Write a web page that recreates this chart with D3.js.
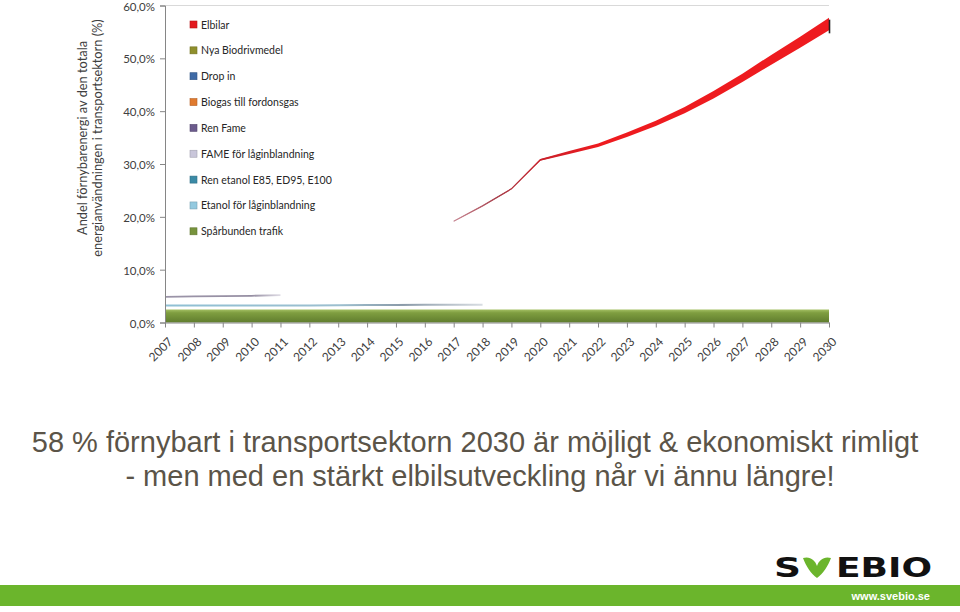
<!DOCTYPE html>
<html>
<head>
<meta charset="utf-8">
<script src="https://cdn.jsdelivr.net/npm/d3@7/dist/d3.min.js"></script>
<style>
  html, body { margin: 0; padding: 0; background: #fff; }
  svg { display: block; }
</style>
</head>
<body>
<svg id="chart" width="960" height="612"></svg>
<script>
// ---------------- DATA ----------------
const years = [2007,2008,2009,2010,2011,2012,2013,2014,2015,2016,2017,2018,2019,2020,2021,2022,2023,2024,2025,2026,2027,2028,2029,2030];
const yTicks = [0,10,20,30,40,50,60];
const legendNames = ["Elbilar","Nya Biodrivmedel","Drop in","Biogas till fordonsgas","Ren Fame","FAME för låginblandning","Ren etanol E85, ED95, E100","Etanol för låginblandning","Spårbunden trafik"];
const legendColors = ["#e3191f","#8f8f2c","#3f6aa6","#e07a2e","#6b5b8c","#c9c6da","#3a8aa6","#93c9df","#77933c"];
// Spårbunden trafik (%), all years
const sparbunden = [2.45,2.45,2.45,2.45,2.45,2.45,2.45,2.45,2.45,2.45,2.45,2.45,2.45,2.45,2.45,2.45,2.45,2.45,2.45,2.45,2.45,2.45,2.45,2.45];
// Etanol för låginblandning (cumulative top, %), visible part only
const etanolTop = [3.2,3.2,3.2,3.2,3.2,3.2,3.25,3.3,3.3,3.35,3.35,3.35,null,null,null,null,null,null,null,null,null,null,null,null];
// FAME för låginblandning (cumulative top, %), visible part only
const fameTop = [4.85,4.95,5.0,5.05,5.2,null,null,null,null,null,null,null,null,null,null,null,null,null,null,null,null,null,null,null];
// Sum of all layers below Elbilar (%), visible from 2017
const underElbilar = [null,null,null,null,null,null,null,null,null,null,19.1,22.0,25.2,30.6,31.9,33.2,35.1,37.2,39.6,42.4,45.5,48.8,52.0,55.3];
// Elbilar (%)
const elbilar = [null,null,null,null,null,null,null,null,null,null,0.1,0.15,0.2,0.35,0.55,0.7,0.85,1.0,1.2,1.4,1.6,1.85,2.1,2.4];

// ---------------- LAYOUT ----------------
const svg = d3.select("#chart");
const x = d3.scalePoint().domain(years).range([165, 829]);
const y = d3.scaleLinear().domain([0, 60]).range([322.5, 5.5]);

const defs = svg.append("defs");
const gGreen = defs.append("linearGradient").attr("id","gGreen").attr("x1",0).attr("y1",0).attr("x2",0).attr("y2",1);
gGreen.append("stop").attr("offset","0%").attr("stop-color","#a3bf63");
gGreen.append("stop").attr("offset","25%").attr("stop-color","#7f9e40");
gGreen.append("stop").attr("offset","100%").attr("stop-color","#607d2e");

const gRed = defs.append("linearGradient").attr("id","gRed").attr("gradientUnits","userSpaceOnUse")
  .attr("x1", x(2017)).attr("y1",0).attr("x2", x(2022)).attr("y2",0);
gRed.append("stop").attr("offset","0%").attr("stop-color","#c88a96");
gRed.append("stop").attr("offset","30%").attr("stop-color","#a8404c");
gRed.append("stop").attr("offset","60%").attr("stop-color","#c8202a");
gRed.append("stop").attr("offset","100%").attr("stop-color","#ee1b1f");

const gBlue = defs.append("linearGradient").attr("id","gBlue").attr("gradientUnits","userSpaceOnUse")
  .attr("x1", x(2007)).attr("y1",0).attr("x2", x(2018)).attr("y2",0);
gBlue.append("stop").attr("offset","0%").attr("stop-color","#8fc0d4");
gBlue.append("stop").attr("offset","55%").attr("stop-color","#9cbfcf");
gBlue.append("stop").attr("offset","75%").attr("stop-color","#8a9aa8");
gBlue.append("stop").attr("offset","100%").attr("stop-color","#d8dde2");

const gFame = defs.append("linearGradient").attr("id","gFame").attr("gradientUnits","userSpaceOnUse")
  .attr("x1", x(2007)).attr("y1",0).attr("x2", x(2011)).attr("y2",0);
gFame.append("stop").attr("offset","0%").attr("stop-color","#9b94a8");
gFame.append("stop").attr("offset","75%").attr("stop-color","#958ea2");
gFame.append("stop").attr("offset","100%").attr("stop-color","#e0dde6");

// top border line
svg.append("line").attr("x1", x(2007)).attr("x2", x(2030)).attr("y1", y(60)).attr("y2", y(60))
  .attr("stroke","#d9d9d9").attr("stroke-width",1.2);

// Spårbunden trafik area
const rows = years.map((yr,i)=>({yr, i}));
svg.append("path")
  .datum(rows)
  .attr("fill","url(#gGreen)")
  .attr("d", d3.area().x(d=>x(d.yr)).y0(y(0)).y1(d=>y(sparbunden[d.i])));

// Etanol line
svg.append("path")
  .datum(rows.filter(d=>etanolTop[d.i]!=null))
  .attr("fill","none").attr("stroke","url(#gBlue)").attr("stroke-width",2)
  .attr("d", d3.line().x(d=>x(d.yr)).y(d=>y(etanolTop[d.i])));

// FAME line
svg.append("path")
  .datum(rows.filter(d=>fameTop[d.i]!=null))
  .attr("fill","none").attr("stroke","url(#gFame)").attr("stroke-width",1.8)
  .attr("d", d3.line().x(d=>x(d.yr)).y(d=>y(fameTop[d.i])));

// Elbilar band
const elRows = rows.filter(d=>underElbilar[d.i]!=null);
svg.append("path")
  .datum(elRows)
  .attr("fill","url(#gRed)")
  .attr("d", d3.area().x(d=>x(d.yr)).y0(d=>y(underElbilar[d.i])).y1(d=>y(underElbilar[d.i]+elbilar[d.i])));
svg.append("path")
  .datum(elRows)
  .attr("fill","none").attr("stroke","url(#gRed)").attr("stroke-width",1.2)
  .attr("d", d3.line().x(d=>x(d.yr)).y(d=>y(underElbilar[d.i]+elbilar[d.i]*0.5)));
const last = elRows[elRows.length-1];
svg.append("line")
  .attr("x1", x(last.yr)+0.5).attr("x2", x(last.yr)+0.5)
  .attr("y1", y(underElbilar[last.i]+elbilar[last.i])+2).attr("y2", y(underElbilar[last.i])+3)
  .attr("stroke","#222").attr("stroke-width",1.6);

// Axes
const axisColor = "#868686";
const yAxis = svg.append("g").attr("transform", `translate(${x(2007)},0)`)
  .call(d3.axisLeft(y).tickValues(yTicks).tickSize(5).tickFormat(d => d3.format(".1f")(d).replace(".", ",") + "%"));
yAxis.select(".domain").attr("stroke", axisColor);
yAxis.selectAll(".tick line").attr("stroke", axisColor);
yAxis.selectAll(".tick text").attr("x", -10).attr("dy","0.4em").attr("fill","#404040")
  .style("font-family","Lato, 'Open Sans', sans-serif").style("font-size","11.5px");

const xAxis = svg.append("g").attr("transform", `translate(0,${y(0)})`)
  .call(d3.axisBottom(x).tickSize(5).tickSizeOuter(0));
xAxis.select(".domain").attr("stroke", axisColor);
xAxis.selectAll(".tick line").attr("stroke", axisColor);
xAxis.selectAll(".tick text")
  .attr("fill","#404040")
  .style("font-family","Lato, 'Open Sans', sans-serif").style("font-size","12px")
  .attr("text-anchor","end").attr("dy",0).attr("y",0)
  .attr("transform","translate(8,20) rotate(-45)");

// Y axis title
const yt = svg.append("text")
  .attr("transform","translate(87,138) rotate(-90)")
  .attr("text-anchor","middle").attr("fill","#404040")
  .style("font-family","Lato, 'Open Sans', sans-serif").style("font-size","12.8px");
yt.append("tspan").attr("x",0).attr("dy",0).text("Andel förnybarenergi av den totala");
yt.append("tspan").attr("x",0).attr("dy",15).text("energianvändningen i transportsektorn (%)");

// Legend
const leg = svg.append("g");
legendNames.forEach((n,i)=>{
  const cy = 25 + i*25.85;
  leg.append("rect").attr("x",190).attr("y",cy-4).attr("width",7).attr("height",7)
    .attr("fill",legendColors[i]).attr("stroke",d3.color(legendColors[i]).darker(0.6)).attr("stroke-width",0.6);
  leg.append("text").attr("x",201).attr("y",cy+3.5).attr("fill","#262626")
    .style("font-family","Lato, 'Open Sans', sans-serif").style("font-size","10.5px").text(n);
});

// Caption
const cap = svg.append("text").attr("text-anchor","middle").attr("fill","#5b5448")
  .style("font-family","'Liberation Sans', Arial, sans-serif").style("font-size","29px");
cap.append("tspan").attr("x",475).attr("y",452).text("58 % förnybart i transportsektorn 2030 är möjligt & ekonomiskt rimligt");
cap.append("tspan").attr("x",480).attr("y",486).text("- men med en stärkt elbilsutveckling når vi ännu längre!");

// Footer bar
svg.append("rect").attr("x",0).attr("y",585).attr("width",960).attr("height",21).attr("fill","#6bb52c");
svg.append("text").attr("x",930).attr("y",600).attr("text-anchor","end").attr("fill","#fff")
  .style("font-family","'Liberation Sans', Arial, sans-serif").style("font-size","11px").style("font-weight","bold")
  .text("www.svebio.se");

// Logo
const logo = svg.append("g");
logo.append("text").attr("x",774).attr("y",577).attr("fill","#111")
  .style("font-family","'DejaVu Sans', sans-serif").style("font-weight","bold").style("font-size","27px")
  .attr("textLength",27).attr("lengthAdjust","spacingAndGlyphs").text("S");
logo.append("text").attr("x",836).attr("y",577).attr("fill","#111")
  .style("font-family","'DejaVu Sans', sans-serif").style("font-weight","bold").style("font-size","27px")
  .attr("textLength",96).attr("lengthAdjust","spacingAndGlyphs").text("EBIO");
logo.append("path").attr("fill","#6bb52c")
  .attr("d","M803,558 C810,556 815,560 817,566 C819,560 824,556 831,558 C828,566 823,574 817,578 C811,574 806,566 803,558 Z");
</script>
</body>
</html>
